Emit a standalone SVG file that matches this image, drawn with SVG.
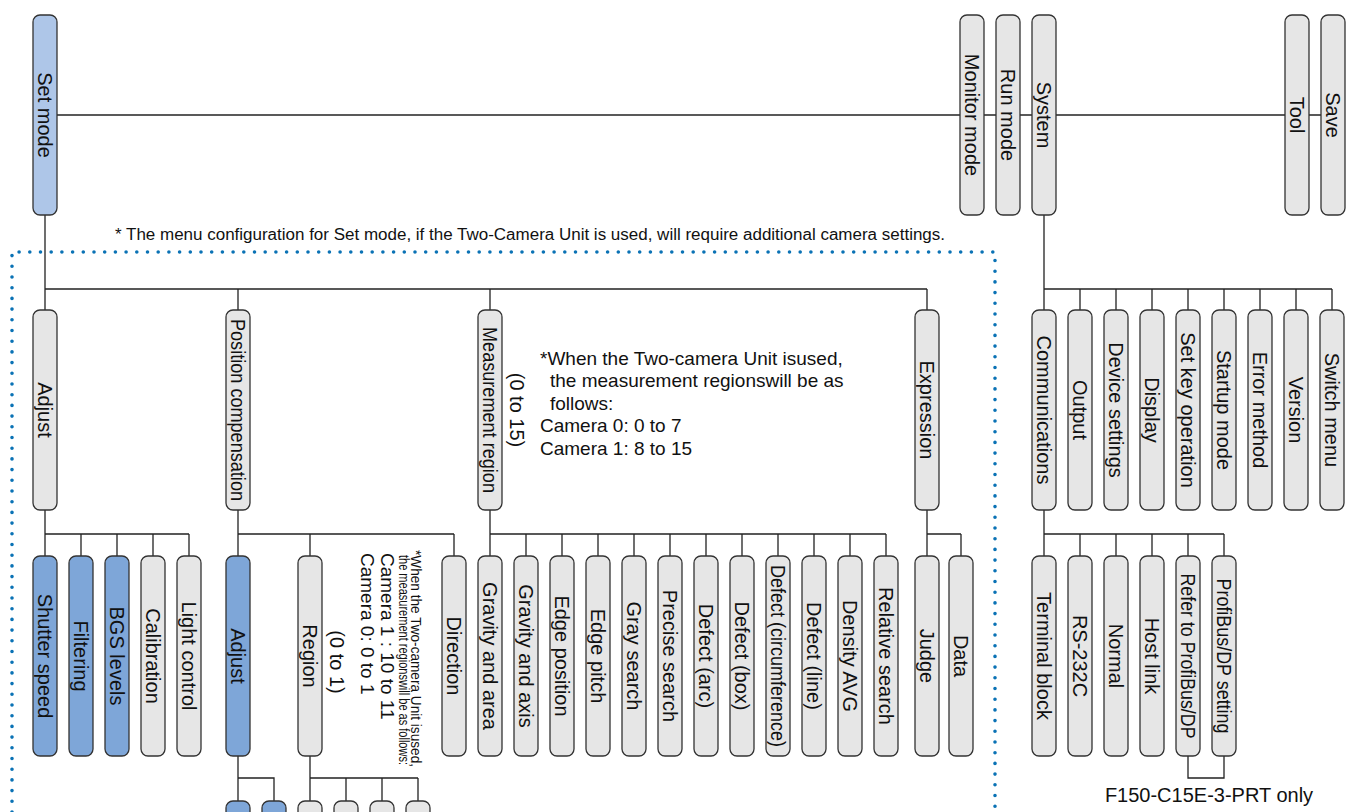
<svg xmlns="http://www.w3.org/2000/svg" width="1351" height="812" viewBox="0 0 1351 812">
<style>
.n{fill:#e6e6e6;stroke:#333;stroke-width:1.3}
.b{fill:#7ea6d8;stroke:#333;stroke-width:1.3}
.s{fill:#aec6e8;stroke:#333;stroke-width:1.3}
.l{font-family:"Liberation Sans",Arial,sans-serif;font-size:20px;fill:#111;text-anchor:middle;dominant-baseline:central}
.t{font-family:"Liberation Sans",Arial,sans-serif;fill:#111}
.c{stroke:#222;stroke-width:1.3;fill:none}
</style>
<rect width="1351" height="812" fill="#fff"/>
<g id="connectors" class="c">
<path d="M57 115H1321"/>
<path d="M45 215V289M45 289H927M45 289V310M238 289V310M490 289V310M927 289V310"/>
<path d="M1044 215V310M1044 289H1332M1080 289V310M1116 289V310M1152 289V310M1188 289V310M1224 289V310M1260 289V310M1296 289V310M1332 289V310"/>
<path d="M45 510V556M45 534H189M81 534V556M117 534V556M153 534V556M189 534V556"/>
<path d="M238 510V556M238 534H454M310 534V556M454 534V556"/>
<path d="M490 510V556M490 534H886M526 534V556M562 534V556M598 534V556M634 534V556M670 534V556M706 534V556M742 534V556M778 534V556M814 534V556M850 534V556M886 534V556"/>
<path d="M927 510V556M927 534H961M961 534V556"/>
<path d="M1044 510V556M1044 534H1224M1080 534V556M1116 534V556M1152 534V556M1188 534V556M1224 534V556"/>
<path d="M1188 756V778H1224V756"/>
<path d="M238 756V801M238 778H274V801M310 756V801M310 778H418M346 778V801M382 778V801M418 778V801"/>
</g>
<path d="M12 812V252H995V812" fill="none" stroke="#0a72b5" stroke-width="3.6" stroke-linecap="round" stroke-dasharray="0 10.7"/>
<text class="t" x="115" y="240" font-size="16" textLength="830" lengthAdjust="spacingAndGlyphs">* The menu configuration for Set mode, if the Two-Camera Unit is used, will require additional camera settings.</text>
<g id="n-setmode"><rect class="s" x="33" y="15" width="24" height="200" rx="7"/><text class="l" transform="translate(45 115) rotate(90)">Set mode</text></g>
<g id="n-monitor"><rect class="n" x="960" y="15" width="24" height="200" rx="7"/><text class="l" transform="translate(972 115) rotate(90)">Monitor mode</text></g>
<g id="n-run"><rect class="n" x="996" y="15" width="24" height="200" rx="7"/><text class="l" transform="translate(1008 115) rotate(90)">Run mode</text></g>
<g id="n-system"><rect class="n" x="1032" y="15" width="24" height="200" rx="7"/><text class="l" transform="translate(1044 115) rotate(90)">System</text></g>
<g id="n-tool"><rect class="n" x="1285" y="15" width="24" height="200" rx="7"/><text class="l" transform="translate(1297 115) rotate(90)">Tool</text></g>
<g id="n-save"><rect class="n" x="1321" y="15" width="24" height="200" rx="7"/><text class="l" transform="translate(1333 115) rotate(90)">Save</text></g>
<g id="n-adjust"><rect class="n" x="33" y="310" width="24" height="200" rx="7"/><text class="l" transform="translate(45 410) rotate(90)">Adjust</text></g>
<g id="n-poscomp"><rect class="n" x="226" y="310" width="24" height="200" rx="7"/><text class="l" transform="translate(238 410) rotate(90)" textLength="182" lengthAdjust="spacingAndGlyphs">Position compensation</text></g>
<g id="n-measreg"><rect class="n" x="478" y="310" width="24" height="200" rx="7"/><text class="l" transform="translate(490 410) rotate(90)" textLength="166" lengthAdjust="spacingAndGlyphs">Measurement region</text></g>
<g id="n-expr"><rect class="n" x="915" y="310" width="24" height="200" rx="7"/><text class="l" transform="translate(927 410) rotate(90)">Expression</text></g>
<text class="l" transform="translate(517 410) rotate(90)">(0 to 15)</text>
<text class="t" font-size="19"><tspan x="540" y="365">*When the Two-camera Unit isused,</tspan><tspan x="550" y="387">the measurement regionswill be as</tspan><tspan x="550" y="410">follows:</tspan><tspan x="540" y="432">Camera 0: 0 to 7</tspan><tspan x="540" y="455">Camera 1: 8 to 15</tspan></text>
<g id="n-sys-children">
<g id="n-comm"><rect class="n" x="1032" y="310" width="24" height="200" rx="7"/><text class="l" transform="translate(1044 410) rotate(90)">Communications</text></g>
<g id="n-output"><rect class="n" x="1068" y="310" width="24" height="200" rx="7"/><text class="l" transform="translate(1080 410) rotate(90)">Output</text></g>
<g id="n-device"><rect class="n" x="1104" y="310" width="24" height="200" rx="7"/><text class="l" transform="translate(1116 410) rotate(90)">Device settings</text></g>
<g id="n-display"><rect class="n" x="1140" y="310" width="24" height="200" rx="7"/><text class="l" transform="translate(1152 410) rotate(90)">Display</text></g>
<g id="n-setkey"><rect class="n" x="1176" y="310" width="24" height="200" rx="7"/><text class="l" transform="translate(1188 410) rotate(90)">Set key operation</text></g>
<g id="n-startup"><rect class="n" x="1212" y="310" width="24" height="200" rx="7"/><text class="l" transform="translate(1224 410) rotate(90)">Startup mode</text></g>
<g id="n-error"><rect class="n" x="1248" y="310" width="24" height="200" rx="7"/><text class="l" transform="translate(1260 410) rotate(90)">Error method</text></g>
<g id="n-version"><rect class="n" x="1284" y="310" width="24" height="200" rx="7"/><text class="l" transform="translate(1296 410) rotate(90)">Version</text></g>
<g id="n-switch"><rect class="n" x="1320" y="310" width="24" height="200" rx="7"/><text class="l" transform="translate(1332 410) rotate(90)">Switch menu</text></g>
</g>
<g id="n-l3">
<g id="n-shutter"><rect class="b" x="33" y="556" width="24" height="200" rx="7"/><text class="l" transform="translate(45 656) rotate(90)">Shutter speed</text></g>
<g id="n-filter"><rect class="b" x="69" y="556" width="24" height="200" rx="7"/><text class="l" transform="translate(81 656) rotate(90)">Filtering</text></g>
<g id="n-bgs"><rect class="b" x="105" y="556" width="24" height="200" rx="7"/><text class="l" transform="translate(117 656) rotate(90)">BGS levels</text></g>
<g id="n-calib"><rect class="n" x="141" y="556" width="24" height="200" rx="7"/><text class="l" transform="translate(153 656) rotate(90)">Calibration</text></g>
<g id="n-light"><rect class="n" x="177" y="556" width="24" height="200" rx="7"/><text class="l" transform="translate(189 656) rotate(90)">Light control</text></g>
<g id="n-adj2"><rect class="b" x="226" y="556" width="24" height="200" rx="7"/><text class="l" transform="translate(238 656) rotate(90)">Adjust</text></g>
<g id="n-region"><rect class="n" x="298" y="556" width="24" height="200" rx="7"/><text class="l" transform="translate(310 656) rotate(90)">Region</text></g>
<g id="n-direction"><rect class="n" x="442" y="556" width="24" height="200" rx="7"/><text class="l" transform="translate(454 656) rotate(90)">Direction</text></g>
<g id="n-gva"><rect class="n" x="478" y="556" width="24" height="200" rx="7"/><text class="l" transform="translate(490 656) rotate(90)">Gravity and area</text></g>
<g id="n-gvx"><rect class="n" x="514" y="556" width="24" height="200" rx="7"/><text class="l" transform="translate(526 656) rotate(90)">Gravity and axis</text></g>
<g id="n-edgepos"><rect class="n" x="550" y="556" width="24" height="200" rx="7"/><text class="l" transform="translate(562 656) rotate(90)">Edge position</text></g>
<g id="n-edgepitch"><rect class="n" x="586" y="556" width="24" height="200" rx="7"/><text class="l" transform="translate(598 656) rotate(90)">Edge pitch</text></g>
<g id="n-gray"><rect class="n" x="622" y="556" width="24" height="200" rx="7"/><text class="l" transform="translate(634 656) rotate(90)">Gray search</text></g>
<g id="n-precise"><rect class="n" x="658" y="556" width="24" height="200" rx="7"/><text class="l" transform="translate(670 656) rotate(90)">Precise search</text></g>
<g id="n-darc"><rect class="n" x="694" y="556" width="24" height="200" rx="7"/><text class="l" transform="translate(706 656) rotate(90)">Defect (arc)</text></g>
<g id="n-dbox"><rect class="n" x="730" y="556" width="24" height="200" rx="7"/><text class="l" transform="translate(742 656) rotate(90)">Defect (box)</text></g>
<g id="n-dcirc"><rect class="n" x="766" y="556" width="24" height="200" rx="7"/><text class="l" transform="translate(778 656) rotate(90)" textLength="182" lengthAdjust="spacingAndGlyphs">Defect (circumference)</text></g>
<g id="n-dline"><rect class="n" x="802" y="556" width="24" height="200" rx="7"/><text class="l" transform="translate(814 656) rotate(90)">Defect (line)</text></g>
<g id="n-davg"><rect class="n" x="838" y="556" width="24" height="200" rx="7"/><text class="l" transform="translate(850 656) rotate(90)">Density AVG</text></g>
<g id="n-rel"><rect class="n" x="874" y="556" width="24" height="200" rx="7"/><text class="l" transform="translate(886 656) rotate(90)">Relative search</text></g>
<g id="n-judge"><rect class="n" x="915" y="556" width="24" height="200" rx="7"/><text class="l" transform="translate(927 656) rotate(90)">Judge</text></g>
<g id="n-data"><rect class="n" x="949" y="556" width="24" height="200" rx="7"/><text class="l" transform="translate(961 656) rotate(90)">Data</text></g>
<g id="n-term"><rect class="n" x="1032" y="556" width="24" height="200" rx="7"/><text class="l" transform="translate(1044 656) rotate(90)">Terminal block</text></g>
<g id="n-rs"><rect class="n" x="1068" y="556" width="24" height="200" rx="7"/><text class="l" transform="translate(1080 656) rotate(90)">RS-232C</text></g>
<g id="n-normal"><rect class="n" x="1104" y="556" width="24" height="200" rx="7"/><text class="l" transform="translate(1116 656) rotate(90)">Normal</text></g>
<g id="n-host"><rect class="n" x="1140" y="556" width="24" height="200" rx="7"/><text class="l" transform="translate(1152 656) rotate(90)">Host link</text></g>
<g id="n-refer"><rect class="n" x="1176" y="556" width="24" height="200" rx="7"/><text class="l" transform="translate(1188 656) rotate(90)" textLength="165" lengthAdjust="spacingAndGlyphs">Refer to ProfiBus/DP</text></g>
<g id="n-profi"><rect class="n" x="1212" y="556" width="24" height="200" rx="7"/><text class="l" transform="translate(1224 656) rotate(90)" textLength="155" lengthAdjust="spacingAndGlyphs">ProfiBus/DP setting</text></g>
</g>
<text class="l" transform="translate(337 662) rotate(90)">(0 to 1)</text>
<g>
<text class="t" font-size="15" transform="translate(411 550) rotate(90)" textLength="217" lengthAdjust="spacingAndGlyphs">*When the Two-camera Unit isused,</text>
<text class="t" font-size="15" transform="translate(399 555) rotate(90)" textLength="210" lengthAdjust="spacingAndGlyphs">the measurement regionswill be as follows:</text>
<text class="t" font-size="19" transform="translate(381 553) rotate(90)">Camera 1 : 10 to 11</text>
<text class="t" font-size="19" transform="translate(361 553) rotate(90)">Camera 0: 0 to 1</text>
</g>
<g id="n-l4">
<rect class="b" x="226" y="801" width="24" height="40" rx="7"/>
<rect class="b" x="262" y="801" width="24" height="40" rx="7"/>
<rect class="n" x="298" y="801" width="24" height="40" rx="7"/>
<rect class="n" x="334" y="801" width="24" height="40" rx="7"/>
<rect class="n" x="370" y="801" width="24" height="40" rx="7"/>
<rect class="n" x="406" y="801" width="24" height="40" rx="7"/>
</g>
<text class="t" x="1209" y="802" font-size="20" text-anchor="middle">F150-C15E-3-PRT only</text>
</svg>
